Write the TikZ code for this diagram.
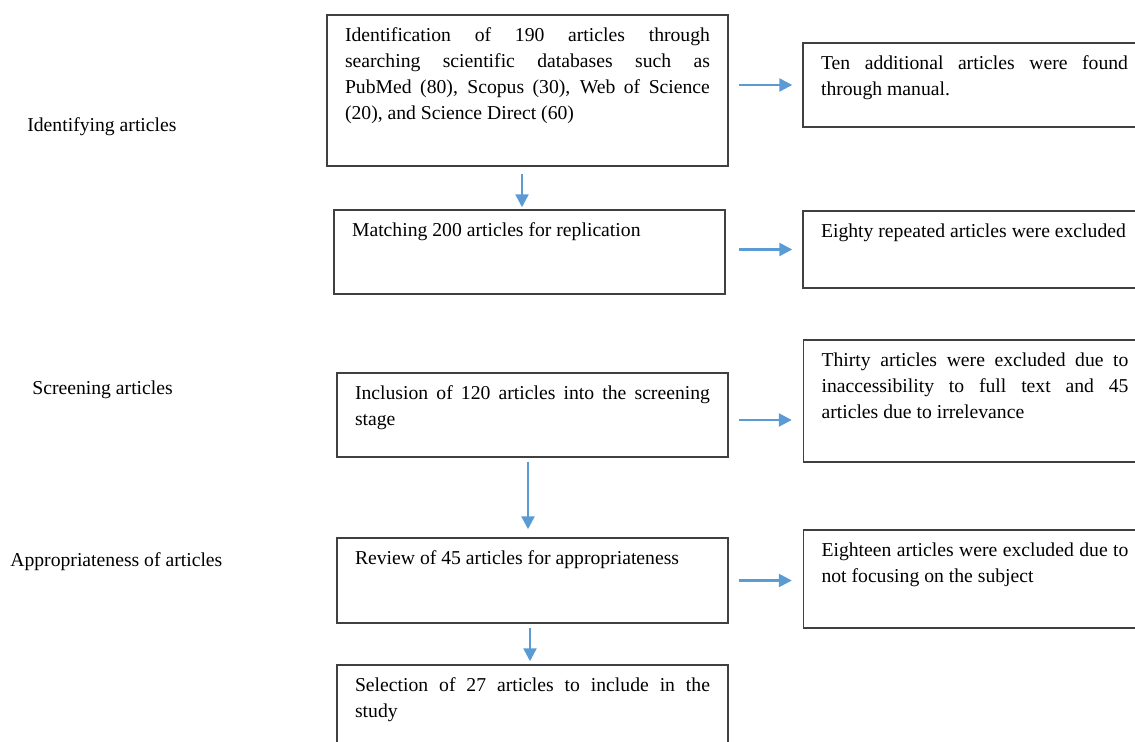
\documentclass[tikz,border=0pt]{standalone}
\usepackage{fontspec}
\setmainfont{Liberation Serif}
\usetikzlibrary{arrows.meta}
\definecolor{flowblue}{HTML}{5B9BD5}
\definecolor{framegray}{HTML}{404040}
\hyphenpenalty=10000
\newcommand{\boxtext}[3]{\parbox[c][#2][t]{#1}{#3}}

\begin{document}
\begin{tikzpicture}[x=0.02cm, y=-0.02cm,
  every node/.style={font=\fontsize{11.2}{14.8}\selectfont},
  stage/.style={draw=framegray, line width=0.85pt, inner xsep=0.36cm, inner ysep=0.25cm},
  phase/.style={inner sep=0pt, anchor=west},
  flow/.style={draw=flowblue, line width=1.4pt, -{Triangle[length=0.26cm, width=0.26cm]}}]
	\useasboundingbox (0,0) rectangle (1135,742);
	\clip (0,0) rectangle (1135,742);

	% phases on the left
	\node[phase] (phident) at (27,127) {Identifying articles};
	\node[phase] (phscreen) at (32,390) {Screening articles};
	\node[phase] (phappr) at (10,562) {Appropriateness of articles};

	% main column
	\node[stage] (ident) at (527.5,90.5) {\boxtext{7.3cm}{2.52cm}{Identification of 190 articles through\linebreak searching scientific databases such as\linebreak PubMed (80), Scopus (30), Web of Science\linebreak (20), and Science Direct (60)}};
	\node[stage] (match) at (529.5,252) {\boxtext{7.1cm}{1.18cm}{Matching 200 articles for replication}};
	\node[stage] (screen) at (532.5,415) {\boxtext{7.1cm}{1.18cm}{Inclusion of 120 articles into the screening\linebreak stage}};
	\node[stage] (review) at (532.5,580.5) {\boxtext{7.1cm}{1.2cm}{Review of 45 articles for appropriateness}};
	\node[stage] (select) at (532.5,707.5) {\boxtext{7.1cm}{1.2cm}{Selection of 27 articles to include in the\linebreak study}};

	% side column
	\node[stage] (manual) at (974.5,85) {\boxtext{6.14cm}{1.18cm}{Ten additional articles were found\linebreak through manual.}};
	\node[stage] (repeat) at (974.5,249.5) {\boxtext{6.14cm}{1.04cm}{Eighty repeated articles were excluded}};
	\node[stage] (access) at (975,401) {\boxtext{6.14cm}{1.94cm}{Thirty articles were excluded due to\linebreak inaccessibility to full text and 45\linebreak articles due to irrelevance}};
	\node[stage] (subject) at (975,579) {\boxtext{6.14cm}{1.46cm}{Eighteen articles were excluded due to\linebreak not focusing on the subject}};

	\draw[flow, shorten <=0.14cm, shorten >=0.04cm] ([xshift=-0.11cm]ident.south) -- ([xshift=-0.11cm]ident.south |- match.north);
	\draw[flow, shorten <=0.08cm, shorten >=0.16cm] ([xshift=-0.09cm]screen.south) -- ([xshift=-0.09cm]screen.south |- review.north);
	\draw[flow, shorten <=0.08cm, shorten >=0.06cm] ([xshift=-0.05cm]review.south) -- ([xshift=-0.05cm]review.south |- select.north);

	\draw[flow, shorten <=0.2cm, shorten >=0.2cm] (ident.east |- manual.west) -- (manual.west);
	\draw[flow, shorten <=0.26cm, shorten >=0.2cm] (match.east |- repeat.west) -- (repeat.west);
	\draw[flow, shorten <=0.2cm, shorten >=0.22cm] ([yshift=-0.1cm]screen.east) -- ([yshift=-0.1cm]screen.east -| access.west);
	\draw[flow, shorten <=0.2cm, shorten >=0.22cm] (review.east) -- (review.east -| subject.west);
\end{tikzpicture}
\end{document}
